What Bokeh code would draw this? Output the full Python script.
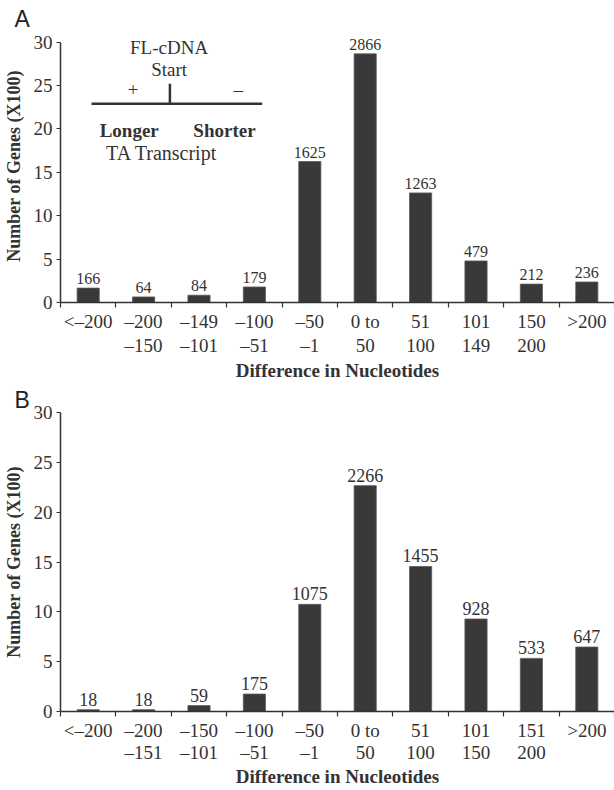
from bokeh.plotting import figure
from bokeh.models import Range1d, FixedTicker, Label
from bokeh.layouts import column
from bokeh.embed import file_html
from bokeh.resources import INLINE

# ---------------- data ----------------
counts_a = [166, 64, 84, 179, 1625, 2866, 1263, 479, 212, 236]
row1_a = ["<–200", "–200", "–149", "–100", "–50", "0 to", "51", "101", "150", ">200"]
row2_a = ["", "–150", "–101", "–51", "–1", "50", "100", "149", "200", ""]

counts_b = [18, 18, 59, 175, 1075, 2266, 1455, 928, 533, 647]
row1_b = ["<–200", "–200", "–150", "–100", "–50", "0 to", "51", "101", "151", ">200"]
row2_b = ["", "–151", "–101", "–51", "–1", "50", "100", "150", "200", ""]

y_ticks = [0, 5, 10, 15, 20, 25, 30]
y_title = "Number of Genes (X100)"
x_title = "Difference in Nucleotides"

SERIF = "Liberation Serif"
INK = "#333333"
BAR = "#393939"


def panel(letter, counts, row1, row2, height, top, bottom, y_end, val_size,
          line_h, title_standoff, letter_standoff):
    p = figure(width=614, height=height, output_backend="svg",
               toolbar_location=None, x_range=Range1d(0, 10),
               y_range=Range1d(0, y_end))
    p.min_border_left = 59
    p.min_border_right = 0
    p.min_border_top = top
    p.min_border_bottom = bottom
    p.outline_line_color = None
    p.xgrid.visible = False
    p.ygrid.visible = False
    p.background_fill_color = "white"
    p.border_fill_color = "white"

    # panel letter
    p.title.text = letter
    p.title.align = "left"
    p.title.offset = -46
    p.title.standoff = letter_standoff
    p.title.text_font = "Liberation Sans"
    p.title.text_font_size = "23px"
    p.title.text_font_style = "normal"
    p.title.text_color = "#222222"

    n = len(counts)
    xs = [i + 0.5 for i in range(n)]
    tops = [c / 100 for c in counts]
    p.vbar(x=xs, top=tops, width=0.4, fill_color=BAR,
           line_color="#5a5a5a", line_width=0.8)
    p.text(x=xs, y=tops, text=[str(c) for c in counts], y_offset=-4,
           text_align="center", text_baseline="bottom", text_font=SERIF,
           text_font_size=val_size, text_color=INK)

    # x axis: labels at category centres, tick marks at boundaries
    xa = p.xaxis[0]
    xa.ticker = FixedTicker(ticks=xs, minor_ticks=list(range(0, n + 1)))
    xa.major_label_overrides = {
        x: (a if not b else a + "\n" + b) for x, a, b in zip(xs, row1, row2)
    }
    xa.major_label_text_font = SERIF
    xa.major_label_text_font_size = "19px"
    xa.major_label_text_color = INK
    xa.major_label_text_line_height = line_h
    xa.major_label_standoff = 3
    xa.major_tick_line_color = None
    xa.major_tick_in = 0
    xa.major_tick_out = 5
    xa.minor_tick_in = 0
    xa.minor_tick_out = 5
    xa.minor_tick_line_color = INK
    xa.minor_tick_line_width = 1.2
    xa.axis_line_width = 1.5
    xa.axis_line_color = INK
    xa.axis_label = x_title
    xa.axis_label_text_font = SERIF
    xa.axis_label_text_font_size = "19px"
    xa.axis_label_text_font_style = "bold"
    xa.axis_label_text_color = INK
    xa.axis_label_standoff = title_standoff

    ya = p.yaxis[0]
    ya.ticker = FixedTicker(ticks=y_ticks)
    ya.bounds = (0, 30)
    ya.minor_tick_line_color = None
    ya.major_tick_in = 0
    ya.major_tick_out = 4
    ya.major_label_standoff = 4
    ya.major_label_text_font = SERIF
    ya.major_label_text_font_size = "19px"
    ya.major_label_text_color = INK
    ya.axis_line_width = 1.5
    ya.axis_line_color = INK
    ya.major_tick_line_color = INK
    ya.axis_label = y_title
    ya.axis_label_text_font = SERIF
    ya.axis_label_text_font_size = "18px"
    ya.axis_label_text_font_style = "bold"
    ya.axis_label_text_color = INK
    ya.axis_label_standoff = 7
    return p


# panel A: y=0 at 308 px, y=30 at 42 px; frame top extended for the inset
pa = panel("A", counts_a, row1_a, row2_a, 383, 29, 75, 30 * 279 / 266,
           "16px", 1.15, 1, -5)
# panel B: y=0 at 724 px, y=30 at 412 px
pb = panel("B", counts_b, row1_b, row2_b, 407, 29, 66, 30,
           "18px", 1.08, 0, 0)

# inset schematic in panel A (annotation positions in data units)
inset_line_x = [0.56, 3.64]
inset_line_y = [22.9, 22.9]
pa.line(inset_line_x, inset_line_y, line_color=INK, line_width=2.5)
pa.segment(x0=[1.975], y0=[22.9], x1=[1.975], y1=[25.2], line_color=INK,
           line_width=2.5)
inset_texts = [
    ("FL-cDNA", 1.96, 29.4, "normal", "19px"),
    ("Start", 1.96, 26.9, "normal", "19px"),
    ("+", 1.31, 24.6, "normal", "19px"),
    ("–", 3.21, 24.6, "normal", "19px"),
    ("Longer", 1.24, 19.8, "bold", "19px"),
    ("Shorter", 2.96, 19.8, "bold", "19px"),
    ("TA Transcript", 1.83, 17.2, "normal", "20px"),
]
for t, x, y, st, sz in inset_texts:
    pa.add_layout(Label(x=x, y=y, text=t, text_align="center",
                        text_baseline="middle", text_font=SERIF,
                        text_font_size=sz, text_font_style=st,
                        text_color=INK))

layout = column(pa, pb, spacing=0)
open("out.html", "w").write(file_html(layout, INLINE))
